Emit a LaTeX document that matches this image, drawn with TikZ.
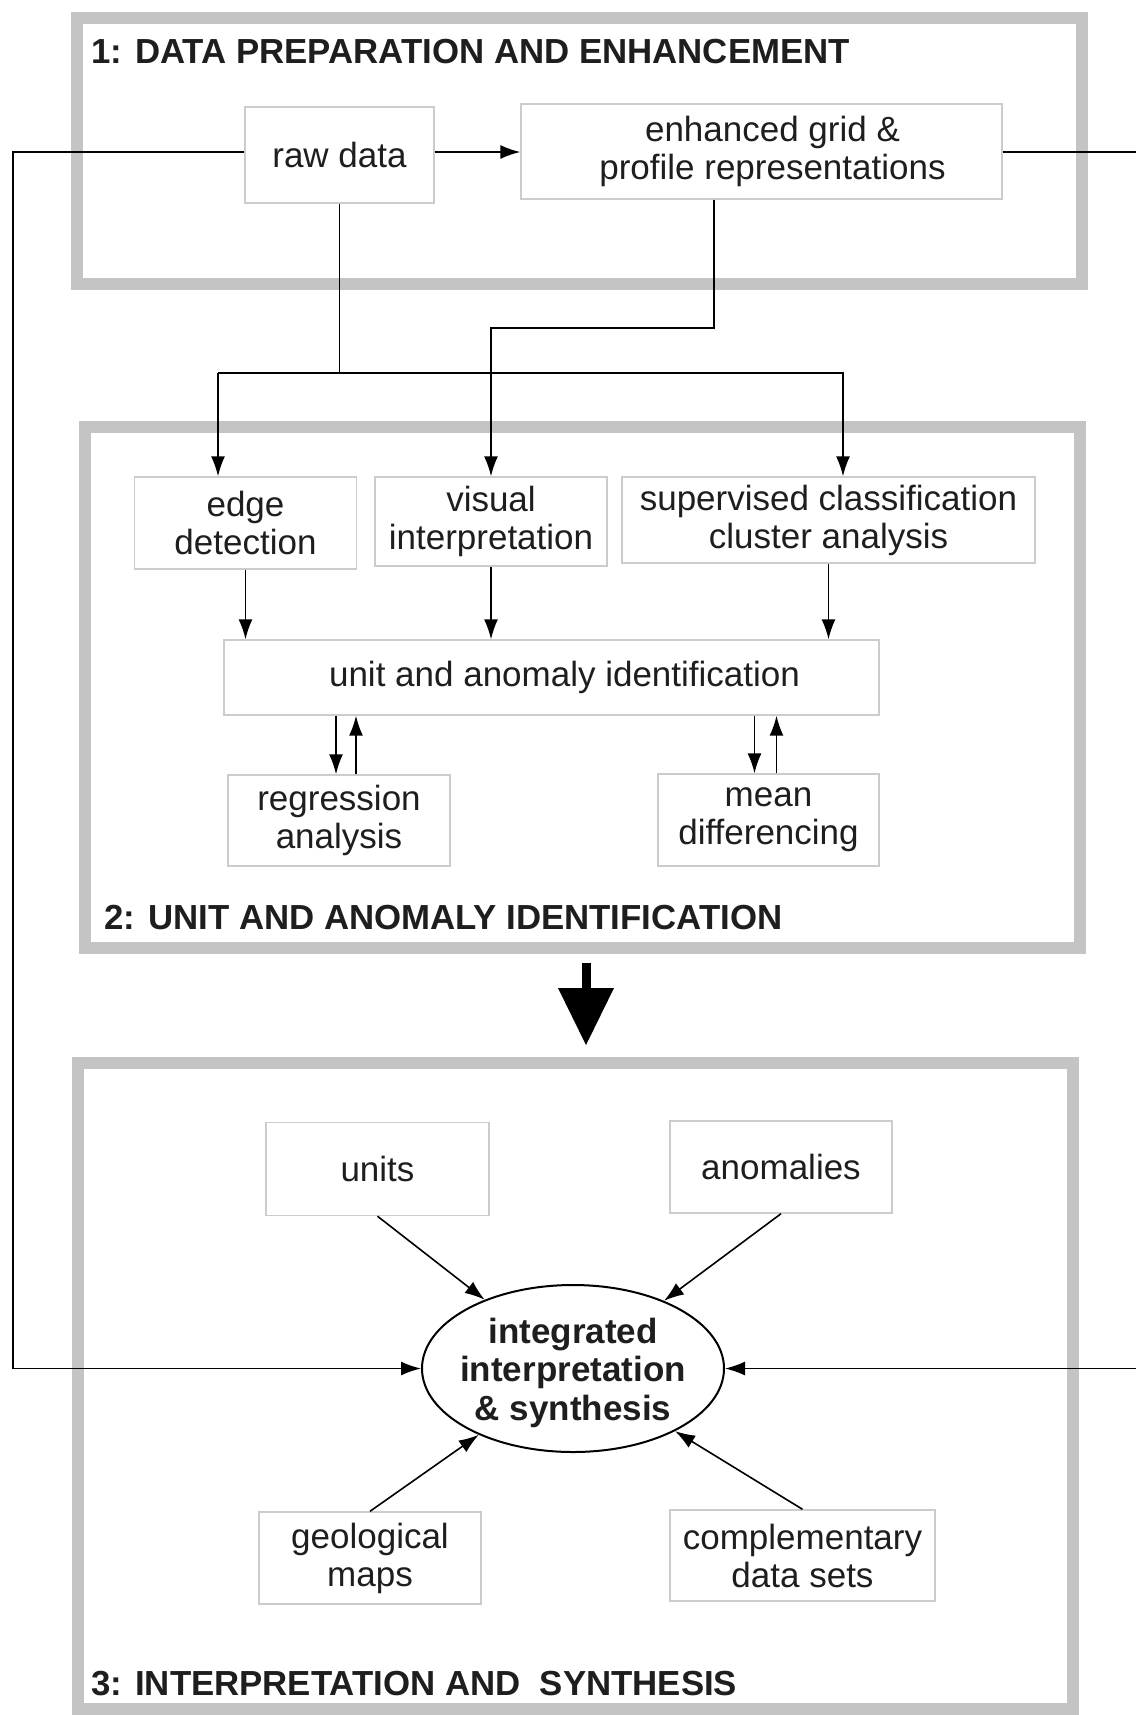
\documentclass[tikz,border=0pt]{standalone}
\usepackage{fontspec}
\setmainfont{Liberation Sans}
\usetikzlibrary{arrows.meta}
\usetikzlibrary{shapes.geometric}
\definecolor{framegray}{RGB}{196,196,196}
\definecolor{boxgray}{RGB}{204,204,204}
\definecolor{inkgray}{RGB}{30,30,30}

\begin{document}
\begin{tikzpicture}[x=0.5pt, y=-0.5pt,
	panel/.style={draw=framegray, line width=6pt},
	box/.style={draw=boxgray, line width=0.7pt, inner sep=0pt, align=center, text=inkgray,
		font=\fontsize{17.5}{19}\selectfont},
	ptitle/.style={anchor=west, inner sep=0pt, text=inkgray, font=\fontsize{17.4}{19}\selectfont\bfseries},
	arr/.style={-{Latex[length=10pt,width=7pt]}, line width=0.8pt},
	line/.style={line width=0.8pt}]
	\useasboundingbox (0,0) rectangle (1136,1715);

	\draw[panel] (77,18) rectangle (1082,284);
	\draw[panel] (85,427) rectangle (1080,948);
	\draw[panel] (78,1063) rectangle (1073,1709);
	\node[ptitle] (t1) at (91,52) {1: DATA PREPARATION AND ENHANCEMENT};
	\node[ptitle] (t2) at (104,918) {2: UNIT AND ANOMALY IDENTIFICATION};
	\node[ptitle] (t3) at (91,1684) {3: INTERPRETATION AND~ SYNTHESIS};

	\node[box, minimum width=94.5pt, minimum height=48pt] (raw) at (339.5,155) {raw data};
	\node[box, minimum width=240.5pt, minimum height=47.5pt] (enh) at (761.5,151.5) {\hspace*{11pt}enhanced grid \&\\\hspace*{11pt}profile representations};

	\node[box, minimum width=111pt, minimum height=46pt] (edge) at (245.5,523) {edge\\detection};
	\node[box, minimum width=116pt, minimum height=44.5pt] (visual) at (491,521.5) {visual\\interpretation};
	\node[box, minimum width=206.5pt, minimum height=43pt] (superv) at (828.5,520) {supervised classification\\cluster analysis};
	\node[box, minimum width=327.5pt, minimum height=37.5pt] (unit) at (551.5,677.5) {\hspace*{13pt}unit and anomaly identification};
	\node[box, minimum width=111pt, minimum height=45.5pt] (regr) at (339,820.5) {regression\\analysis};
	\node[box, minimum width=110.5pt, minimum height=46pt] (mean) at (768.5,820) {mean\\differencing};

	\node[box, minimum width=111.5pt, minimum height=46.5pt] (units) at (377.5,1169) {units};
	\node[box, minimum width=111pt, minimum height=46pt] (anom) at (781,1167) {anomalies};
	\node[draw=black, ellipse, line width=1pt, minimum width=151pt, minimum height=83.5pt] (synth) at (573,1368.5) {};
	\node[box, draw=none, font=\fontsize{17.5}{19.4}\selectfont\bfseries] (synthtext) at ([yshift=-2.2pt]synth.center) {integrated\\interpretation\\\& synthesis};
	\node[box, minimum width=111pt, minimum height=46pt] (geo) at (370,1558) {geological\\maps};
	\node[box, minimum width=132.5pt, minimum height=45.5pt] (comp) at (802.5,1555.5) {complementary\\data sets};

	\coordinate (lturn) at (13,152);
	\coordinate (rturn) at (1142,152);
	\coordinate (forkL) at (218,373);
	\coordinate (forkR) at (843,373);
	\coordinate (ebend) at (714,328);

	\draw[arr] (raw.east |- lturn) -- (enh.west |- lturn);
	\draw[arr] (raw.west |- lturn) -- (lturn) -- (synth.west -| lturn) -- (synth.west);
	\draw[arr] (enh.east |- rturn) -- (rturn) -- (synth.east -| rturn) -- (synth.east);
	\draw[line] (raw.south) -- (raw.south |- forkL);
	\draw[arr] (forkL) -- (edge.north -| forkL);
	\draw[arr] (forkL) -- (forkR) -- (superv.north -| forkR);
	\draw[arr] (enh.south -| ebend) -- (ebend) -| (visual.north);

	\draw[arr] (edge.south) -- (edge.south |- unit.north);
	\draw[arr] (visual.south) -- (visual.south |- unit.north);
	\draw[arr] (superv.south) -- (superv.south |- unit.north);
	\draw[arr] ([xshift=-1.5pt]unit.south -| regr.north) -- ([xshift=-1.5pt]regr.north);
	\draw[arr] ([xshift=8.5pt]regr.north) -- ([xshift=8.5pt]unit.south -| regr.north);
	\draw[arr] ([xshift=-7pt]unit.south -| mean.north) -- ([xshift=-7pt]mean.north);
	\draw[arr] ([xshift=4pt]mean.north) -- ([xshift=4pt]unit.south -| mean.north);

	\fill[black] (581.5,963) rectangle (590.5,990);
	\fill[black] (558,988) -- (614,988) -- (586,1045) -- cycle;

	\draw[arr] (units.south) -- (synth);
	\draw[arr] (anom.south) -- (synth);
	\draw[arr] (geo.north) -- (synth);
	\draw[arr] (comp.north) -- (synth);
\end{tikzpicture}
\end{document}
